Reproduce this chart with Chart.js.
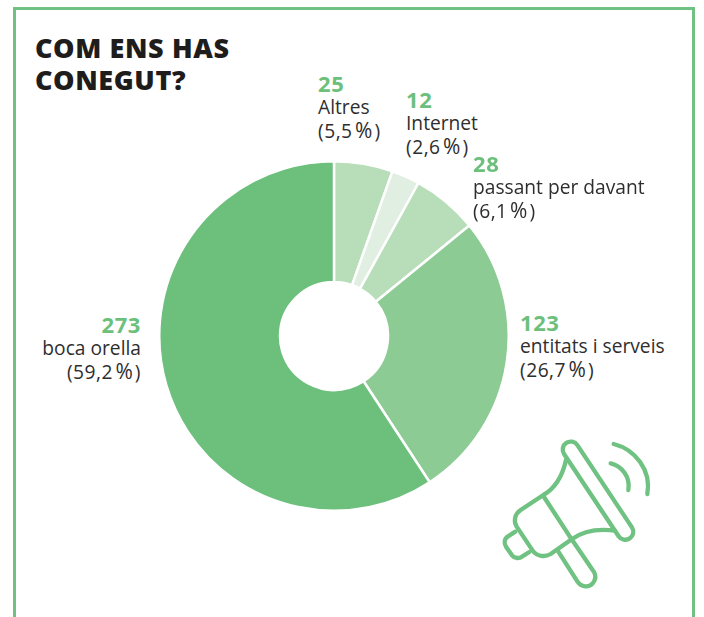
<!DOCTYPE html>
<html>
<head>
<meta charset="utf-8">
<script src="https://cdn.jsdelivr.net/npm/chart.js@4"></script>
<style>
html, body { margin: 0; padding: 0; background: #fff; }
#page { position: relative; width: 704px; height: 617px; overflow: hidden; font-family: "Open Sans", sans-serif; color: #2f2e2e; }
#frame { position: absolute; left: 13px; top: 7px; width: 676px; height: 640px; border: 3px solid #6fc281; }
#title { position: absolute; left: 35px; top: 32px; font-size: 27px; line-height: 32px; font-weight: 800; letter-spacing: 0.6px; color: #1f1c1c; white-space: pre; }
#wrap { position: absolute; left: 158px; top: 160px; width: 352px; height: 352px; }
.lab { position: absolute; font-size: 19.2px; line-height: 24px; white-space: nowrap; font-weight: 400; }
.lab b { display: block; color: #6cc07c; font-size: 22px; font-weight: 700; letter-spacing: 0.6px; }
.lab span { letter-spacing: 0.5px; }
.lab i { font-style: normal; font-size: 21px; padding: 0 1.5px 0 2.5px; line-height: 20px; }
#icon { position: absolute; left: 480px; top: 420px; }
</style>
</head>
<body>
<div id="page">
  <div id="frame"></div>
  <div id="title">COM ENS HAS
CONEGUT?</div>
  <div id="wrap"><canvas id="chart"></canvas></div>
  <svg id="icon" width="224" height="197" viewBox="0 0 672 591" fill="none" stroke="#6fc281" stroke-width="13" stroke-linecap="round" stroke-linejoin="round">
    <rect x="-172" y="-24" width="344" height="48" rx="24" transform="translate(354 212) rotate(56.4)"/>
    <path d="M258 120 C248 165 225 205 190 225 L122 270 C104 282 100 303 110 320 L158 392 C170 410 195 412 212 402 L275 358 C310 332 350 325 405 332"/>
    <path d="M190 228 L275 358"/>
    <path d="M235 395 L292 484 C304 502 326 504 338 490 C348 478 348 466 342 456 L275 358"/>
    <path d="M106 335 L84 349 C72 357 72 370 78 380 L96 406 C104 416 118 416 126 410 L148 396"/>
    <path d="M401 72 C465 88 515 150 502 222"/>
    <path d="M392 130 C425 138 452 170 445 210"/>
  </svg>
</div>
<script>
const categories = ['Altres', 'Internet', 'passant per davant', 'entitats i serveis', 'boca orella'];
const counts = [25, 12, 28, 123, 273];
const percents = ['5,5', '2,6', '6,1', '26,7', '59,2'];
const colors = ['#b7ddb9', '#e1efe2', '#b7ddb9', '#8dcb95', '#6cc07c'];
const labelSpots = [
  { left: 318, top: 71 },
  { left: 406, top: 87 },
  { left: 473, top: 151 },
  { left: 520, top: 310 },
  { right: 563, top: 312 }
];

const page = document.getElementById('page');
categories.forEach((name, i) => {
  const el = document.createElement('div');
  el.className = 'lab';
  const spot = labelSpots[i];
  el.style.top = spot.top + 'px';
  if (spot.left !== undefined) el.style.left = spot.left + 'px';
  else { el.style.right = spot.right + 'px'; el.style.textAlign = 'right'; }
  el.innerHTML = '<b>' + counts[i] + '</b>' + name + '<br><span>(' + percents[i] + '<i>%</i>)</span>';
  page.appendChild(el);
});

new Chart(document.getElementById('chart'), {
  type: 'doughnut',
  data: {
    labels: categories,
    datasets: [{ data: counts, backgroundColor: colors, borderColor: '#ffffff', borderWidth: 2.5, hoverOffset: 0 }]
  },
  options: {
    responsive: true,
    maintainAspectRatio: false,
    animation: false,
    cutout: 54,
    plugins: { legend: { display: false }, tooltip: { enabled: false } }
  }
});
</script>
</body>
</html>
